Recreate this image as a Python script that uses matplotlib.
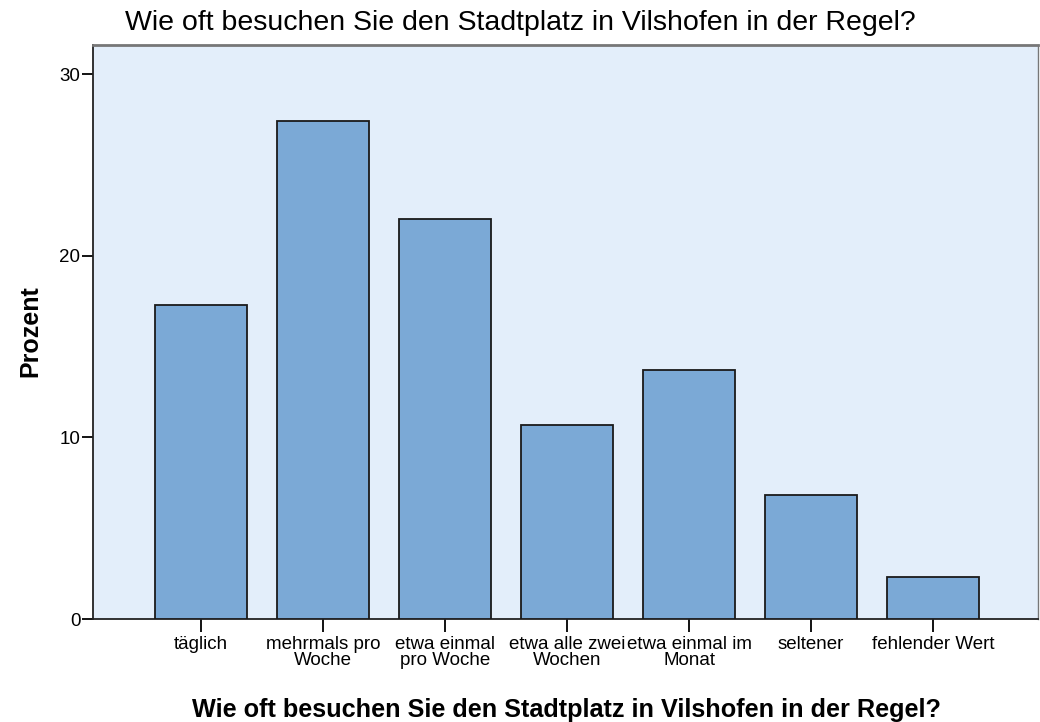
import matplotlib
matplotlib.use("Agg")
import matplotlib.pyplot as plt

categories = ["täglich", "mehrmals pro\nWoche", "etwa einmal\npro Woche",
              "etwa alle zwei\nWochen", "etwa einmal im\nMonat", "seltener",
              "fehlender Wert"]
values = [17.3, 27.4, 22.0, 10.7, 13.7, 6.8, 2.3]
yticks = [0, 10, 20, 30]
title = "Wie oft besuchen Sie den Stadtplatz in Vilshofen in der Regel?"
ylabel = "Prozent"

plt.rcParams['font.family'] = ['Liberation Sans', 'DejaVu Sans']

W, H = 1040, 722
fig = plt.figure(figsize=(W/100, H/100), dpi=100)
ax = fig.add_axes([93/W, (H-619)/H, (1038-93)/W, (619-45)/H])
ax.set_facecolor("#E3EEFA")

x = list(range(len(categories)))
ax.bar(x, values, width=0.754, color="#7BA9D6", edgecolor="#1a1a1a", linewidth=1.3, zorder=3)

ax.set_xlim(-0.885, 6.86)
ax.set_ylim(0, 31.6)
ax.set_yticks(yticks)
ax.set_yticklabels([str(v) for v in yticks], fontsize=13.5)
ax.set_xticks(x)
ax.set_xticklabels(categories, fontsize=13.5, linespacing=0.95)
ax.tick_params(axis='y', length=8, width=1.3, direction='out', pad=1)
ax.tick_params(axis='x', length=9, width=1.3, direction='out', pad=3)

for s in ['left', 'bottom']:
    ax.spines[s].set_linewidth(1.3)
    ax.spines[s].set_color("#222222")
ax.spines['top'].set_color("#777777")
ax.spines['top'].set_linewidth(2.0)
ax.spines['right'].set_color("#777777")
ax.spines['right'].set_linewidth(1.0)

fig.text(520/W, 1 - 30/H, title, ha='center', va='baseline', fontsize=20.5)
fig.text(566/W, 1 - 717/H, title, ha='center', va='baseline', fontsize=18.2, fontweight='bold')
fig.text(30/W, 1 - 331/H, ylabel, ha='center', va='center', rotation=90,
         fontsize=18, fontweight='bold')

fig.savefig("out.png", dpi=100)
